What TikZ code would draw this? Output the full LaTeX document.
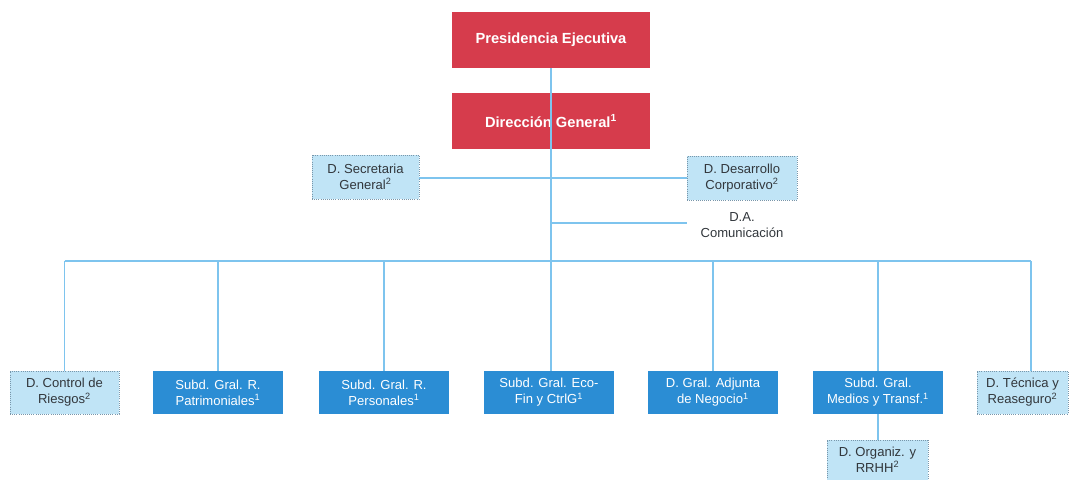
\documentclass[tikz,border=0pt]{standalone}
\usepackage{fontspec}
\setmainfont{Liberation Sans}
\definecolor{cRed}{RGB}{214,60,76}
\definecolor{cDark}{RGB}{43,141,212}
\definecolor{cLight}{RGB}{192,228,246}
\definecolor{cLine}{RGB}{126,196,238}
\definecolor{cBorder}{RGB}{120,150,170}
\definecolor{cText}{RGB}{50,55,60}
\begin{document}
\begin{tikzpicture}[x=0.75pt,y=-0.75pt,
  redbox/.style={fill=cRed, text=white, font=\fontsize{11}{13}\selectfont\bfseries,
    minimum width=148.5pt, minimum height=42pt, align=center, inner sep=0pt},
  darkbox/.style={fill=cDark, text=white, font=\fontsize{9.8}{12}\selectfont,
    minimum width=97.5pt, minimum height=32.25pt, align=center, inner sep=0pt},
  lightbox/.style={fill=cLight, draw=cBorder, densely dotted, line width=0.6pt, text=cText,
    font=\fontsize{9.8}{12}\selectfont, minimum height=32.25pt, align=center, inner sep=0pt},
  plaintext/.style={text=cText, font=\fontsize{9.8}{12}\selectfont, align=center, inner sep=0pt},
  conn/.style={draw=cLine, line width=0.9pt}]
\useasboundingbox (0,0) rectangle (1075,479);
% top
\node[redbox] (pe) at (551,40) {Presidencia Ejecutiva};
\node[redbox] (dg) at (551,121) {Dirección General\textsuperscript{1}};
% staff
\node[lightbox, minimum width=80.25pt, minimum height=33pt] (sec) at (365.5,177) {D. Secretaria\\General\textsuperscript{2}};
\node[lightbox, minimum width=82.5pt, minimum height=33pt] (des) at (742,178) {D. Desarrollo\\Corporativo\textsuperscript{2}};
\node[plaintext, minimum width=82.5pt] (com) at (742,225) {D.A.\\Comunicación};
% bottom row
\node[lightbox, minimum width=81.75pt] (ctr) at (64.5,392.5) {D. Control de\\Riesgos\textsuperscript{2}};
\node[darkbox] (pat) at (218,392.5) {Subd. Gral. R.\\Patrimoniales\textsuperscript{1}};
\node[darkbox] (per) at (384,392.5) {Subd. Gral. R.\\Personales\textsuperscript{1}};
\node[darkbox] (eco) at (549,392.5) {Subd. Gral. Eco-\\Fin y CtrlG\textsuperscript{1}};
\node[darkbox] (adj) at (713,392.5) {D. Gral. Adjunta\\de Negocio\textsuperscript{1}};
\node[darkbox] (med) at (878,392.5) {Subd. Gral.\\Medios y Transf.\textsuperscript{1}};
\node[lightbox, minimum width=68.25pt] (tec) at (1022.5,392.5) {D. Técnica y\\Reaseguro\textsuperscript{2}};
\node[lightbox, minimum width=75.75pt, minimum height=30pt] (org) at (877.5,460) {D. Organiz. y\\RRHH\textsuperscript{2}};
% coordinates
\coordinate (tA) at (550,178);
\coordinate (tB) at (550,223);
\coordinate (bL) at (64.5,261);
\coordinate (bR) at (1031,261);
% connectors
\draw[conn] (pe.south) -- (dg.south -| pe.south);
\draw[conn] (dg.south) -- (dg.south |- eco.north);
\draw[conn] (sec.east |- tA) -- (tA);
\draw[conn] (tA) -- (tA -| des.west);
\draw[conn] (tB) -- (tB -| com.west);
\draw[conn] (bL) -- (bR);
\draw[conn] (bL) -- (ctr.north);
\draw[conn] (bL -| pat.north) -- (pat.north);
\draw[conn] (bL -| per.north) -- (per.north);
\draw[conn] (bL -| adj.north) -- (adj.north);
\draw[conn] (bL -| med.north) -- (med.north);
\draw[conn] (bR) -- (bR |- tec.north);
\draw[conn] (med.south) -- (med.south |- org.north);
\end{tikzpicture}
\end{document}
